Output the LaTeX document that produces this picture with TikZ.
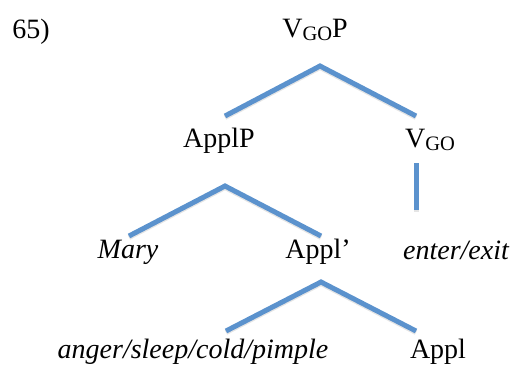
\documentclass[tikz,border=0pt]{standalone}
\usepackage{fontspec}
\setmainfont{Liberation Serif}
\usetikzlibrary{positioning}
\definecolor{branchblue}{RGB}{91,146,205}
\newcommand{\lowtext}[1]{\raisebox{-0.13em}{\fontsize{20.5}{22}\selectfont #1}}

\begin{document}
\begin{tikzpicture}[
    x=1pt,y=-1pt,
    cat/.style={anchor=base, inner sep=0pt, font=\fontsize{28}{32}\selectfont},
    word/.style={cat, font=\fontsize{28}{32}\selectfont\itshape},
    branch/.style={draw=branchblue, line width=5pt, line cap=butt, line join=miter,
      preaction={draw=black!10, line width=5pt, transform canvas={yshift=-1.5pt}}}
  ]
    \useasboundingbox (0,0) rectangle (516,373);

    \node[cat] (num) at (31,38) {65)};
    \node[cat] (vgop) at (315,37) {V\lowtext{GO}P};
    \node[cat] (applp) at (219,147) {ApplP};
    \node[cat, anchor=base west] (vgo) at (405,147) {V\lowtext{GO}};
    \node[word] (mary) at (128,258) {Mary};
    \node[cat] (applbar) at (318,258) {Appl'};
    \node[word] (enter) at (456,259) {enter/exit};
    \node[word] (anger) at (193,358) {anger/sleep/cold/pimple};
    \node[cat] (appl) at (438,358) {Appl};

    % branch points and feet
    \coordinate (top) at (320,66);
    \coordinate (top-l) at (225,116);
    \coordinate (top-r) at (416,116);
    \coordinate (go-t) at (416,163);
    \coordinate (go-b) at (416,210);
    \coordinate (mid) at (225,186);
    \coordinate (mid-l) at (129,236);
    \coordinate (mid-r) at (321,236);
    \coordinate (low) at (321,282);
    \coordinate (low-l) at (226,331);
    \coordinate (low-r) at (416,331);

    \draw[branch] (top-l) -- (top) -- (top-r);
    \draw[branch] (go-t) -- (go-b);
    \draw[branch] (mid-l) -- (mid) -- (mid-r);
    \draw[branch] (low-l) -- (low) -- (low-r);
\end{tikzpicture}
\end{document}
